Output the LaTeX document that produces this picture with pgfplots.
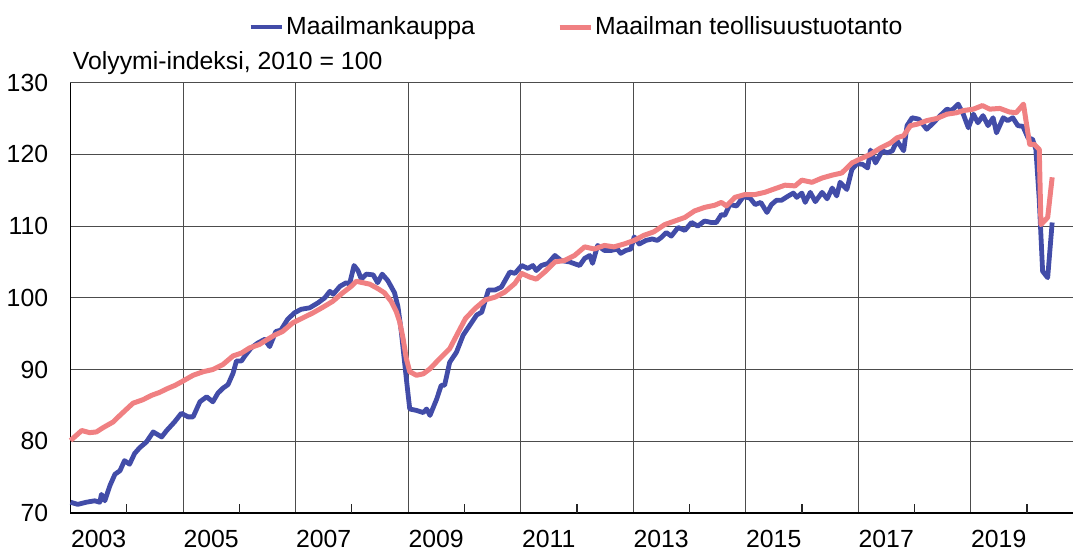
\documentclass[border=0pt]{standalone}
\usepackage{pgfplots}
\pgfplotsset{compat=1.18}
\usepackage{pgfplotstable}
\usepackage{fontspec}
\setmainfont{Liberation Sans}
\definecolor{tradeblue}{RGB}{66,76,168}
\definecolor{indpink}{RGB}{240,128,130}

\pgfplotstableread{
t v
2003.00 71.5
2003.13 71.2
2003.28 71.5
2003.43 71.7
2003.52 71.5
2003.55 72.6
2003.61 71.7
2003.70 73.8
2003.79 75.4
2003.88 75.9
2003.96 77.3
2004.05 76.8
2004.14 78.3
2004.23 79.1
2004.35 79.9
2004.47 81.3
2004.62 80.6
2004.71 81.5
2004.85 82.7
2004.97 83.9
2005.09 83.4
2005.18 83.4
2005.30 85.5
2005.42 86.2
2005.53 85.5
2005.62 86.7
2005.71 87.4
2005.80 87.9
2005.89 89.5
2005.95 91.2
2006.04 91.2
2006.10 91.9
2006.21 93.0
2006.33 93.7
2006.45 94.2
2006.54 93.2
2006.65 95.3
2006.74 95.5
2006.86 97.0
2006.98 97.9
2007.10 98.4
2007.25 98.6
2007.40 99.3
2007.52 100.0
2007.61 100.9
2007.67 100.5
2007.79 101.6
2007.90 102.1
2007.96 101.9
2008.04 104.5
2008.11 103.8
2008.17 102.6
2008.26 103.3
2008.38 103.2
2008.46 102.1
2008.54 103.3
2008.64 102.4
2008.76 100.7
2008.82 98.8
2008.88 95.3
2008.97 88.7
2009.03 84.5
2009.15 84.3
2009.27 84.0
2009.33 84.5
2009.39 83.6
2009.51 85.9
2009.59 87.8
2009.65 87.8
2009.74 91.0
2009.86 92.4
2009.98 94.8
2010.10 96.2
2010.22 97.6
2010.31 98.0
2010.43 101.1
2010.55 101.1
2010.66 101.5
2010.81 103.6
2010.90 103.4
2011.02 104.5
2011.13 104.1
2011.22 104.5
2011.28 103.8
2011.37 104.5
2011.49 104.8
2011.61 105.9
2011.72 105.2
2011.87 105.0
2012.05 104.5
2012.14 105.5
2012.23 105.9
2012.28 104.8
2012.37 107.3
2012.49 106.6
2012.61 106.6
2012.72 106.8
2012.78 106.2
2012.87 106.6
2012.96 106.8
2013.02 108.5
2013.11 107.5
2013.23 108.0
2013.34 108.2
2013.43 108.0
2013.50 108.4
2013.59 109.1
2013.68 108.6
2013.80 109.8
2013.92 109.4
2014.04 110.5
2014.15 110.0
2014.27 110.7
2014.39 110.5
2014.48 110.5
2014.57 111.6
2014.63 111.5
2014.72 113.0
2014.84 112.8
2014.96 114.1
2015.08 113.9
2015.17 113.0
2015.27 113.3
2015.38 111.9
2015.46 113.0
2015.55 113.6
2015.64 113.6
2015.76 114.2
2015.85 114.6
2015.91 114.0
2016.00 114.6
2016.06 113.3
2016.15 114.7
2016.24 113.4
2016.36 114.7
2016.45 113.8
2016.54 115.3
2016.62 114.2
2016.68 116.1
2016.80 115.1
2016.89 117.9
2016.98 118.7
2017.08 118.6
2017.17 118.1
2017.22 120.6
2017.31 118.8
2017.43 120.5
2017.52 120.2
2017.61 120.5
2017.69 121.9
2017.81 120.5
2017.87 124.0
2017.96 125.1
2018.08 124.9
2018.22 123.5
2018.34 124.4
2018.46 125.4
2018.58 126.3
2018.66 126.1
2018.78 127.0
2018.87 125.6
2018.96 123.7
2019.05 125.6
2019.13 124.4
2019.22 125.4
2019.31 124.0
2019.40 125.1
2019.46 123.0
2019.58 125.1
2019.66 124.7
2019.75 125.1
2019.84 124.0
2019.93 123.9
2020.02 122.3
2020.10 122.1
2020.16 120.7
2020.22 113.7
2020.28 103.7
2020.37 102.8
2020.45 110.5
}\tradetable

\pgfplotstableread{
t v
2003.00 80.1
2003.20 81.5
2003.34 81.2
2003.46 81.3
2003.58 81.9
2003.76 82.7
2003.85 83.4
2004.00 84.5
2004.11 85.3
2004.29 85.8
2004.44 86.4
2004.58 86.8
2004.71 87.3
2004.86 87.8
2005.00 88.4
2005.18 89.2
2005.36 89.7
2005.53 90.0
2005.71 90.7
2005.89 91.9
2006.04 92.3
2006.18 93.0
2006.36 93.5
2006.48 94.1
2006.63 94.8
2006.77 95.3
2006.95 96.5
2007.13 97.2
2007.31 97.9
2007.49 98.7
2007.66 99.5
2007.84 100.7
2007.99 101.6
2008.08 102.3
2008.20 102.1
2008.32 101.9
2008.46 101.3
2008.58 100.7
2008.70 99.5
2008.79 98.1
2008.85 96.7
2008.91 94.4
2008.97 91.5
2009.03 89.7
2009.15 89.2
2009.27 89.4
2009.39 90.1
2009.56 91.5
2009.74 92.9
2009.90 95.3
2010.02 97.1
2010.19 98.5
2010.37 99.7
2010.55 100.1
2010.72 100.8
2010.90 102.0
2011.02 103.4
2011.16 102.9
2011.28 102.6
2011.43 103.6
2011.61 105.0
2011.78 105.2
2011.96 105.9
2012.14 107.1
2012.31 106.8
2012.49 107.3
2012.66 107.1
2012.84 107.5
2013.02 108.0
2013.19 108.7
2013.37 109.2
2013.56 110.2
2013.74 110.7
2013.92 111.2
2014.09 112.1
2014.27 112.6
2014.45 112.9
2014.57 113.3
2014.66 112.8
2014.81 114.0
2014.99 114.4
2015.17 114.4
2015.34 114.7
2015.52 115.2
2015.70 115.7
2015.88 115.6
2016.00 116.4
2016.18 116.1
2016.36 116.7
2016.54 117.1
2016.71 117.4
2016.89 118.8
2017.05 119.4
2017.22 120.0
2017.40 120.9
2017.58 121.6
2017.69 122.3
2017.81 122.6
2017.93 124.0
2018.05 124.2
2018.22 124.7
2018.40 125.0
2018.58 125.6
2018.75 125.8
2018.87 126.1
2019.05 126.3
2019.21 126.8
2019.34 126.3
2019.52 126.4
2019.69 125.9
2019.81 125.8
2019.94 127.0
2019.99 124.4
2020.05 121.4
2020.13 121.4
2020.22 120.7
2020.25 110.2
2020.37 111.2
2020.45 116.8
}\indtable

\begin{document}
\fontsize{12.4}{14}\selectfont
\begin{tikzpicture}
\path[use as bounding box] (-35.25pt,-19pt) rectangle (501.25pt,256.5pt);
\begin{axis}[
  at={(0,0)}, anchor=south west,
  scale only axis,
  width=501.25pt, height=215.2pt,
  xmin=2003, xmax=2020.82,
  ymin=70, ymax=130,
  axis x line*=bottom,
  axis y line*=left,
  axis line style={black, line width=0.8pt, -},
  ytick={70,80,90,100,110,120,130},
  ymajorgrids,
  grid style={black!70, line width=0.5pt},
  xtick={2004,2006,2008,2010,2012,2014,2016,2018,2020},
  xticklabels={2003,2005,2007,2009,2011,2013,2015,2017,2019,},
  xticklabel style={anchor=north, inner sep=0pt, yshift=-8.5pt, xshift=-14.06pt},
  major tick length=0pt,
  minor xtick={2005,2007,2009,2011,2013,2015,2017,2019},
  minor tick length=0pt,
  xminorgrids,
  minor grid style={black!70, line width=0.5pt},
  /pgf/number format/assume math mode=true,
  ticklabel style={font=\fontsize{12.4}{14}\selectfont},
  yticklabel style={anchor=east, inner sep=0pt, xshift=-11pt},
  legend columns=2,
  legend style={draw=none, fill=none, at={(0.177,1.129)}, anchor=west,
    inner sep=0pt, font=\fontsize{12.4}{14}\selectfont,
    /tikz/every even column/.append style={column sep=40pt},
    nodes={inner sep=1pt}},
  legend image code/.code={\draw[#1] (0pt,0pt) -- (15.5pt,0pt);},
  clip=false,
]
\pgfplotsinvokeforeach{2004,2006,2008,2010,2012,2014,2016,2018,2020}{
  \draw[black!85, line width=0.7pt] (axis cs:#1,70) -- ++(0pt,4.5pt);
}
\addplot[tradeblue, line width=2.4pt, line join=round] table[x=t,y=v]{\tradetable};
\addlegendentry{Maailmankauppa}
\addplot[indpink, line width=2.5pt, line join=round] table[x=t,y=v]{\indtable};
\addlegendentry{Maailman teollisuustuotanto}
\node[anchor=base west, inner sep=0pt] at (rel axis cs:0,1) [xshift=1pt, yshift=6.5pt] {Volyymi-indeksi, 2010 = 100};
\end{axis}
\end{tikzpicture}
\end{document}
